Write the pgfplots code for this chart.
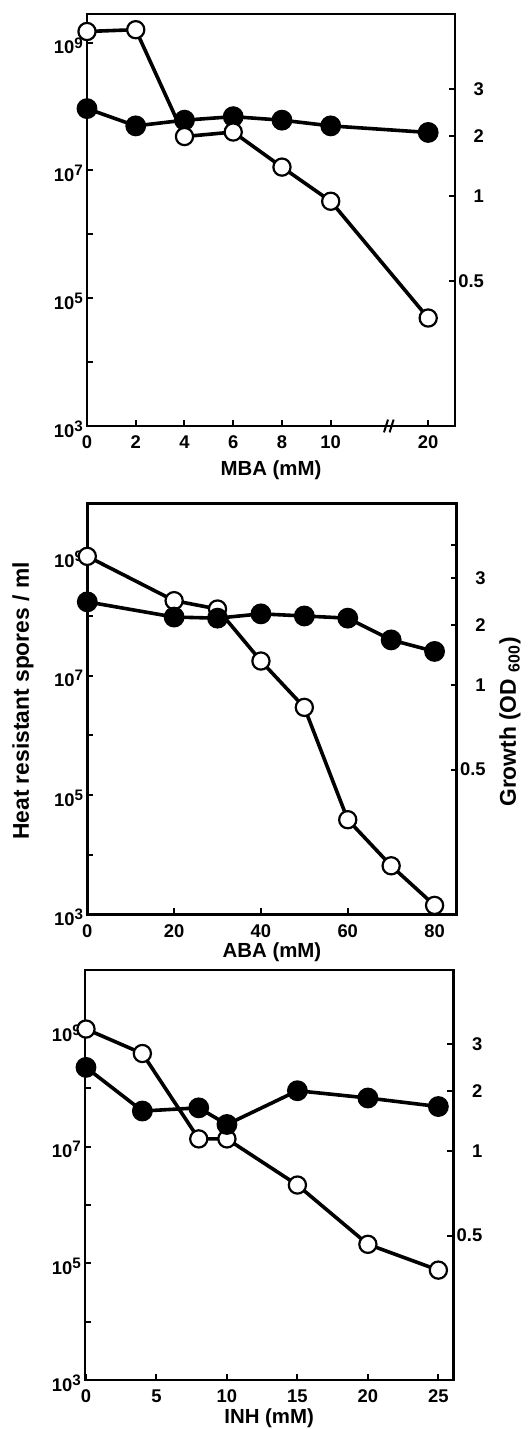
\documentclass[border=0pt]{standalone}
\usepackage{fontspec}
\setmainfont{Liberation Sans}
\usepackage{pgfplots}
\pgfplotsset{compat=1.18}

\newcommand\pow[1]{10\raisebox{0.32em}{\fontsize{7.6}{8}\selectfont #1}}

% right axis: OD600 scale as drawn in the figure (piecewise in log10)
\pgfplotsset{
  panel/.style={scale only axis, anchor=south west, clip=false,
    tick align=inside, major tick length=3pt,
    axis line style={line width=1.3pt},
    every tick/.style={black, line width=1pt},
    tick label style={font=\bfseries\fontsize{9.2}{10}\selectfont},
    label style={font=\bfseries\fontsize{10.2}{12}\selectfont}},
  sporeaxis/.style={ymin=1e3, yminorticks=false,
    ytick={1e3,1e4,1e5,1e6,1e7,1e8,1e9},
    yticklabels={\pow{3},,\pow{5},,\pow{7},,\pow{9}},
    xtick pos=bottom, ytick pos=left,
    yticklabel style={yshift=-1.5pt, xshift=1.4pt},
    xticklabel style={yshift=-1.5pt}},
  odaxis/.style={axis y line*=right, axis x line=none,
    ymin=0.1518, ymax=5.7146,
    y coord trafo/.code={\pgfmathparse{ifthenelse(log10(##1)<0, 0.560+0.684*log10(##1),
      ifthenelse(log10(##1)<0.30103, 0.560+0.482*log10(##1), 0.705+0.647*(log10(##1)-0.30103)))}},
    ytick={0.5,1,2,3}, yticklabels={0.5,1,2,3},
    yticklabel style={anchor=east, xshift=18pt}},
  openser/.style={black, line width=1.8pt, mark=*, mark size=4.3pt,
    mark options={fill=white, line width=1.1pt}},
  fillser/.style={black, line width=1.8pt, mark=*, mark size=4.3pt,
    mark options={fill=black}},
}

\begin{document}
\begin{tikzpicture}
\path[use as bounding box] (0,0) rectangle (264pt,714.5pt);

% ---- MBA ----
\begin{axis}[panel, odaxis, at={(43.5pt,501.5pt)}, width=184pt, height=206pt,
  x coord trafo/.code={\pgfmathparse{ifthenelse(#1>=14,#1-6,#1)}},
  xmin=0, xmax=21.1]
\addplot[fillser] coordinates {(0,2.53)(2,2.18)(4,2.29)(6,2.36)(8,2.29)(10,2.18)(20,2.06)};
\end{axis}
\begin{axis}[panel, ymode=log, sporeaxis, at={(43.5pt,501.5pt)}, width=184pt, height=206pt,
  x coord trafo/.code={\pgfmathparse{ifthenelse(#1>=14,#1-6,#1)}},
  xmin=0, xmax=21.1, ymax=2.82e9,
  xtick={0,2,4,6,8,10,20}, xticklabels={0,2,4,6,8,10,20},
  xlabel={MBA (mM)}, xlabel style={at={(axis description cs:0.5,0)}, anchor=center, yshift=-22pt}]
\addplot[openser] coordinates {(0,1.5e9)(2,1.6e9)(4,3.4e7)(6,4.0e7)(8,1.13e7)(10,3.3e6)(20,4.9e4)};
\fill[white] ([xshift=-2.2pt,yshift=-3.2pt]axis cs:12.4,1e3) -- ++(2.4pt,0) -- ++(2pt,6.4pt) -- ++(-2.4pt,0) -- cycle;
\draw[line width=1pt] ([xshift=-2.6pt,yshift=-3.2pt]axis cs:12.4,1e3) -- ++(2pt,6.4pt);
\draw[line width=1pt] ([xshift=0.2pt,yshift=-3.2pt]axis cs:12.4,1e3) -- ++(2pt,6.4pt);
\end{axis}

% ---- ABA ----
\begin{axis}[panel, ymode=log, sporeaxis, at={(43.65pt,257.35pt)}, width=184.7pt, height=205.5pt,
  xmin=0, xmax=85.1, ymax=7.76e9,
  xtick={0,20,40,60,80}, xticklabels={0,20,40,60,80},
  xlabel={ABA (mM)}, xlabel style={at={(axis description cs:0.5,0)}, anchor=center, yshift=-19pt}]
\addplot[openser] coordinates {(0,1.0e9)(20,1.81e8)(30,1.31e8)(40,1.76e7)(50,2.94e6)(60,3.85e4)(70,6.5e3)(80,1.41e3)};
\end{axis}
\begin{axis}[panel, odaxis, at={(43.65pt,257.35pt)}, width=184.7pt, height=205.5pt,
  xmin=0, xmax=85.1, ytick={0.5,1,2,3,4}, yticklabels={0.5,1,2,3,}]
\addplot[fillser] coordinates {(0,2.44)(20,2.14)(30,2.12)(40,2.20)(50,2.16)(60,2.12)(70,1.68)(80,1.47)};
\end{axis}

% ---- INH ----
\begin{axis}[panel, ymode=log, sporeaxis, at={(42.5pt,24.5pt)}, width=184.15pt, height=205pt,
  xmin=-0.07, xmax=26.06, ymax=1.07e10,
  xtick={0,5,10,15,20,25}, xticklabels={0,5,10,15,20,25},
  xlabel={INH (mM)}, xlabel style={at={(axis description cs:0.5,0)}, anchor=center, yshift=-19pt}]
\addplot[openser] coordinates {(0,1.04e9)(4,3.96e8)(8,1.36e7)(10,1.36e7)(15,2.2e6)(20,2.12e5)(25,7.65e4)};
\end{axis}
\begin{axis}[panel, odaxis, at={(42.5pt,24.5pt)}, width=184.15pt, height=205pt,
  xmin=-0.07, xmax=26.06]
\addplot[fillser] coordinates {(0,2.46)(4,1.59)(8,1.65)(10,1.36)(15,2.01)(20,1.85)(25,1.675)};
\end{axis}

\node[rotate=90, font=\bfseries\fontsize{11.4}{13}\selectfont] at (11.5pt,364pt) {Heat resistant spores / ml};
\node[rotate=90, font=\bfseries\fontsize{11.4}{13}\selectfont] at (255pt,353.5pt) {Growth (OD \textsubscript{600})};
\end{tikzpicture}
\end{document}
